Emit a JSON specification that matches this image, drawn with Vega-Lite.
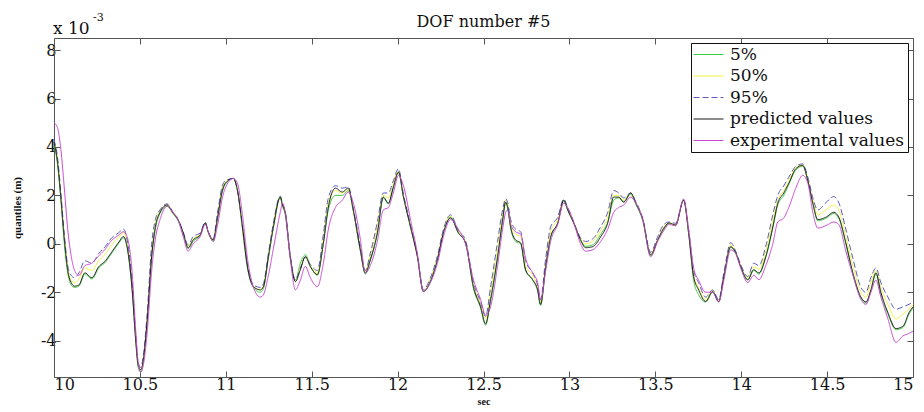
{
  "$schema": "https://vega.github.io/schema/vega-lite/v6.json",
  "width": 859,
  "height": 339,
  "autosize": {"type": "none"},
  "padding": {"left": 54, "top": 38, "right": 11, "bottom": 35},
  "background": "white",
  "title": {"text": "DOF number #5", "font": "DejaVu Serif", "fontSize": 16, "fontWeight": "normal", "color": "#111", "offset": -11, "dy": 20, "baseline": "alphabetic", "anchor": "middle"},
  "config": {
    "view": {"stroke": null},
    "axis": {"grid": false, "domainColor": "#555", "tickColor": "#555", "tickSize": -6, "labelFont": "DejaVu Serif", "labelFontSize": 16, "labelColor": "#111", "titleColor": "#111", "titleFont": "Liberation Serif", "titleFontSize": 11, "titleFontWeight": "bold"}
  },
  "data": {"values": [
    {"t":10.000,"q5":4.1,"q50":4.2,"q95":4.3,"pred":4.2,"exp":5.0},
    {"t":10.020,"q5":3.3,"q50":3.5,"q95":3.6,"pred":3.4,"exp":4.8},
    {"t":10.040,"q5":1.8,"q50":2.0,"q95":2.1,"pred":1.9,"exp":3.9},
    {"t":10.060,"q5":0.0,"q50":0.3,"q95":0.4,"pred":0.2,"exp":2.3},
    {"t":10.080,"q5":-1.2,"q50":-1.0,"q95":-0.9,"pred":-1.1,"exp":0.6},
    {"t":10.100,"q5":-1.7,"q50":-1.5,"q95":-1.3,"pred":-1.6,"exp":-0.5},
    {"t":10.120,"q5":-1.8,"q50":-1.6,"q95":-1.4,"pred":-1.75,"exp":-1.1},
    {"t":10.145,"q5":-1.75,"q50":-1.45,"q95":-1.2,"pred":-1.7,"exp":-1.3},
    {"t":10.180,"q5":-1.25,"q50":-1.0,"q95":-0.7,"pred":-1.2,"exp":-0.9},
    {"t":10.220,"q5":-1.45,"q50":-1.1,"q95":-0.8,"pred":-1.4,"exp":-0.8},
    {"t":10.260,"q5":-1.0,"q50":-0.7,"q95":-0.4,"pred":-0.95,"exp":-0.5},
    {"t":10.300,"q5":-0.75,"q50":-0.4,"q95":-0.1,"pred":-0.7,"exp":-0.2},
    {"t":10.330,"q5":-0.45,"q50":-0.1,"q95":0.2,"pred":-0.4,"exp":0.1},
    {"t":10.375,"q5":0.0,"q50":0.25,"q95":0.45,"pred":0.05,"exp":0.35},
    {"t":10.405,"q5":0.25,"q50":0.45,"q95":0.6,"pred":0.3,"exp":0.5},
    {"t":10.425,"q5":-0.15,"q50":0.1,"q95":0.2,"pred":-0.1,"exp":0.3},
    {"t":10.455,"q5":-1.95,"q50":-1.7,"q95":-1.6,"pred":-1.9,"exp":-1.2},
    {"t":10.475,"q5":-4.0,"q50":-3.8,"q95":-3.7,"pred":-3.9,"exp":-3.5},
    {"t":10.490,"q5":-5.1,"q50":-5.0,"q95":-4.9,"pred":-5.0,"exp":-4.9},
    {"t":10.505,"q5":-5.3,"q50":-5.2,"q95":-5.1,"pred":-5.2,"exp":-5.3},
    {"t":10.520,"q5":-4.9,"q50":-4.8,"q95":-4.6,"pred":-4.8,"exp":-5.0},
    {"t":10.542,"q5":-3.3,"q50":-3.1,"q95":-2.9,"pred":-3.2,"exp":-3.7},
    {"t":10.570,"q5":-0.5,"q50":-0.2,"q95":0.1,"pred":-0.4,"exp":-1.0},
    {"t":10.590,"q5":0.6,"q50":0.8,"q95":1.0,"pred":0.7,"exp":0.2},
    {"t":10.617,"q5":1.25,"q50":1.35,"q95":1.4,"pred":1.3,"exp":1.0},
    {"t":10.658,"q5":1.55,"q50":1.6,"q95":1.65,"pred":1.6,"exp":1.55},
    {"t":10.693,"q5":1.25,"q50":1.3,"q95":1.3,"pred":1.27,"exp":1.3},
    {"t":10.722,"q5":0.95,"q50":1.0,"q95":1.0,"pred":1.0,"exp":1.0},
    {"t":10.752,"q5":0.4,"q50":0.45,"q95":0.5,"pred":0.45,"exp":0.3},
    {"t":10.781,"q5":-0.2,"q50":-0.1,"q95":-0.05,"pred":-0.16,"exp":-0.3},
    {"t":10.810,"q5":0.1,"q50":0.2,"q95":0.3,"pred":0.16,"exp":0.0},
    {"t":10.851,"q5":0.35,"q50":0.4,"q95":0.45,"pred":0.37,"exp":0.3},
    {"t":10.880,"q5":0.85,"q50":0.85,"q95":0.9,"pred":0.86,"exp":0.8},
    {"t":10.898,"q5":0.45,"q50":0.5,"q95":0.5,"pred":0.49,"exp":0.5},
    {"t":10.927,"q5":0.1,"q50":0.2,"q95":0.2,"pred":0.16,"exp":0.1},
    {"t":10.950,"q5":0.95,"q50":1.1,"q95":1.2,"pred":1.0,"exp":0.7},
    {"t":10.980,"q5":2.15,"q50":2.3,"q95":2.4,"pred":2.2,"exp":1.9},
    {"t":10.997,"q5":2.45,"q50":2.55,"q95":2.6,"pred":2.5,"exp":2.3},
    {"t":11.044,"q5":2.7,"q50":2.7,"q95":2.7,"pred":2.7,"exp":2.7},
    {"t":11.068,"q5":2.2,"q50":2.2,"q95":2.2,"pred":2.2,"exp":2.5},
    {"t":11.097,"q5":0.6,"q50":0.7,"q95":0.75,"pred":0.7,"exp":1.2},
    {"t":11.126,"q5":-1.0,"q50":-0.9,"q95":-0.85,"pred":-0.94,"exp":-0.6},
    {"t":11.161,"q5":-1.8,"q50":-1.75,"q95":-1.7,"pred":-1.77,"exp":-1.8},
    {"t":11.201,"q5":-2.0,"q50":-1.9,"q95":-1.8,"pred":-1.9,"exp":-2.2},
    {"t":11.219,"q5":-1.85,"q50":-1.75,"q95":-1.65,"pred":-1.77,"exp":-2.1},
    {"t":11.248,"q5":-0.6,"q50":-0.45,"q95":-0.4,"pred":-0.53,"exp":-1.3},
    {"t":11.277,"q5":0.65,"q50":0.8,"q95":0.85,"pred":0.7,"exp":-0.2},
    {"t":11.317,"q5":1.9,"q50":1.95,"q95":1.97,"pred":1.93,"exp":1.3},
    {"t":11.330,"q5":1.55,"q50":1.6,"q95":1.65,"pred":1.6,"exp":1.68},
    {"t":11.346,"q5":1.2,"q50":1.3,"q95":1.35,"pred":1.27,"exp":1.3},
    {"t":11.375,"q5":-0.55,"q50":-0.5,"q95":-0.45,"pred":-0.53,"exp":-0.6},
    {"t":11.405,"q5":-1.5,"q50":-1.55,"q95":-1.5,"pred":-1.56,"exp":-1.9},
    {"t":11.434,"q5":-0.8,"q50":-1.0,"q95":-1.0,"pred":-1.07,"exp":-1.5},
    {"t":11.463,"q5":-0.45,"q50":-0.55,"q95":-0.55,"pred":-0.53,"exp":-0.93},
    {"t":11.492,"q5":-0.9,"q50":-0.9,"q95":-0.85,"pred":-0.94,"exp":-1.4},
    {"t":11.533,"q5":-1.3,"q50":-1.2,"q95":-1.1,"pred":-1.27,"exp":-1.77},
    {"t":11.568,"q5":0.0,"q50":0.2,"q95":0.4,"pred":0.04,"exp":-0.8},
    {"t":11.597,"q5":1.4,"q50":1.7,"q95":1.9,"pred":1.52,"exp":0.6},
    {"t":11.638,"q5":2.0,"q50":2.2,"q95":2.4,"pred":2.3,"exp":1.5},
    {"t":11.678,"q5":2.0,"q50":2.1,"q95":2.3,"pred":2.14,"exp":1.8},
    {"t":11.713,"q5":2.2,"q50":2.25,"q95":2.35,"pred":2.3,"exp":2.14},
    {"t":11.742,"q5":1.35,"q50":1.4,"q95":1.45,"pred":1.4,"exp":1.7},
    {"t":11.783,"q5":-0.3,"q50":-0.2,"q95":-0.1,"pred":-0.25,"exp":0.2},
    {"t":11.812,"q5":-1.25,"q50":-1.15,"q95":-1.1,"pred":-1.2,"exp":-1.2},
    {"t":11.841,"q5":-0.7,"q50":-0.5,"q95":-0.4,"pred":-0.66,"exp":-0.9},
    {"t":11.882,"q5":0.4,"q50":0.7,"q95":0.9,"pred":0.45,"exp":0.1},
    {"t":11.917,"q5":1.9,"q50":2.0,"q95":2.1,"pred":1.93,"exp":1.4},
    {"t":11.946,"q5":1.65,"q50":1.9,"q95":2.1,"pred":1.68,"exp":1.5},
    {"t":11.975,"q5":2.3,"q50":2.5,"q95":2.6,"pred":2.34,"exp":2.1},
    {"t":12.005,"q5":2.95,"q50":3.0,"q95":3.1,"pred":2.96,"exp":2.83},
    {"t":12.034,"q5":1.95,"q50":2.0,"q95":2.05,"pred":1.93,"exp":2.4},
    {"t":12.075,"q5":0.7,"q50":0.75,"q95":0.8,"pred":0.7,"exp":1.0},
    {"t":12.115,"q5":-0.5,"q50":-0.5,"q95":-0.45,"pred":-0.53,"exp":-0.4},
    {"t":12.150,"q5":-1.95,"q50":-1.95,"q95":-1.9,"pred":-1.97,"exp":-1.97},
    {"t":12.191,"q5":-1.5,"q50":-1.45,"q95":-1.4,"pred":-1.56,"exp":-1.6},
    {"t":12.232,"q5":-0.6,"q50":-0.55,"q95":-0.5,"pred":-0.66,"exp":-0.8},
    {"t":12.267,"q5":0.5,"q50":0.55,"q95":0.6,"pred":0.45,"exp":0.3},
    {"t":12.308,"q5":1.1,"q50":1.15,"q95":1.2,"pred":1.07,"exp":1.0},
    {"t":12.354,"q5":0.45,"q50":0.5,"q95":0.55,"pred":0.45,"exp":0.6},
    {"t":12.395,"q5":0.05,"q50":0.1,"q95":0.15,"pred":0.04,"exp":0.0},
    {"t":12.442,"q5":-1.85,"q50":-1.7,"q95":-1.6,"pred":-1.8,"exp":-1.5},
    {"t":12.483,"q5":-2.65,"q50":-2.5,"q95":-2.4,"pred":-2.6,"exp":-2.3},
    {"t":12.512,"q5":-3.35,"q50":-3.1,"q95":-3.0,"pred":-3.3,"exp":-2.95},
    {"t":12.541,"q5":-2.4,"q50":-2.0,"q95":-1.8,"pred":-2.3,"exp":-2.6},
    {"t":12.582,"q5":-0.6,"q50":-0.2,"q95":0.1,"pred":-0.53,"exp":-0.9},
    {"t":12.611,"q5":0.9,"q50":1.2,"q95":1.4,"pred":0.99,"exp":0.6},
    {"t":12.629,"q5":1.7,"q50":1.8,"q95":1.86,"pred":1.72,"exp":1.3},
    {"t":12.641,"q5":1.45,"q50":1.6,"q95":1.7,"pred":1.5,"exp":1.4},
    {"t":12.658,"q5":0.65,"q50":0.9,"q95":1.0,"pred":0.7,"exp":0.8},
    {"t":12.687,"q5":0.1,"q50":0.4,"q95":0.6,"pred":0.16,"exp":0.5},
    {"t":12.716,"q5":0.0,"q50":0.3,"q95":0.5,"pred":0.04,"exp":0.4},
    {"t":12.745,"q5":-1.1,"q50":-0.9,"q95":-0.7,"pred":-1.07,"exp":-0.6},
    {"t":12.786,"q5":-1.5,"q50":-1.3,"q95":-1.2,"pred":-1.48,"exp":-1.2},
    {"t":12.815,"q5":-1.95,"q50":-1.8,"q95":-1.7,"pred":-1.9,"exp":-1.6},
    {"t":12.832,"q5":-2.55,"q50":-2.4,"q95":-2.3,"pred":-2.5,"exp":-2.3},
    {"t":12.862,"q5":-1.0,"q50":-0.8,"q95":-0.6,"pred":-0.94,"exp":-1.1},
    {"t":12.891,"q5":0.25,"q50":0.5,"q95":0.7,"pred":0.29,"exp":0.1},
    {"t":12.932,"q5":0.85,"q50":1.0,"q95":1.1,"pred":0.86,"exp":0.8},
    {"t":12.967,"q5":1.75,"q50":1.8,"q95":1.85,"pred":1.8,"exp":1.68},
    {"t":12.990,"q5":1.4,"q50":1.45,"q95":1.5,"pred":1.4,"exp":1.5},
    {"t":13.025,"q5":0.85,"q50":0.9,"q95":0.9,"pred":0.86,"exp":0.9},
    {"t":13.065,"q5":0.15,"q50":0.2,"q95":0.25,"pred":0.16,"exp":0.0},
    {"t":13.094,"q5":-0.1,"q50":0.0,"q95":0.1,"pred":-0.16,"exp":-0.3},
    {"t":13.135,"q5":-0.05,"q50":0.1,"q95":0.2,"pred":-0.12,"exp":-0.25},
    {"t":13.182,"q5":0.4,"q50":0.55,"q95":0.7,"pred":0.29,"exp":0.1},
    {"t":13.223,"q5":0.9,"q50":1.1,"q95":1.3,"pred":0.86,"exp":0.6},
    {"t":13.258,"q5":1.8,"q50":2.0,"q95":2.2,"pred":1.93,"exp":1.3},
    {"t":13.287,"q5":1.9,"q50":2.0,"q95":2.1,"pred":1.93,"exp":1.5},
    {"t":13.316,"q5":1.75,"q50":1.8,"q95":1.9,"pred":1.72,"exp":1.6},
    {"t":13.357,"q5":2.05,"q50":2.1,"q95":2.1,"pred":2.1,"exp":1.93},
    {"t":13.386,"q5":1.65,"q50":1.7,"q95":1.75,"pred":1.68,"exp":1.7},
    {"t":13.427,"q5":0.95,"q50":1.0,"q95":1.05,"pred":1.0,"exp":1.0},
    {"t":13.473,"q5":-0.5,"q50":-0.4,"q95":-0.35,"pred":-0.45,"exp":-0.53},
    {"t":13.514,"q5":0.15,"q50":0.2,"q95":0.3,"pred":0.16,"exp":0.1},
    {"t":13.550,"q5":0.6,"q50":0.7,"q95":0.8,"pred":0.65,"exp":0.55},
    {"t":13.580,"q5":0.85,"q50":0.85,"q95":0.9,"pred":0.86,"exp":0.8},
    {"t":13.618,"q5":0.75,"q50":0.8,"q95":0.85,"pred":0.78,"exp":0.75},
    {"t":13.665,"q5":1.8,"q50":1.8,"q95":1.8,"pred":1.8,"exp":1.85},
    {"t":13.694,"q5":0.4,"q50":0.5,"q95":0.6,"pred":0.45,"exp":0.6},
    {"t":13.723,"q5":-1.5,"q50":-1.3,"q95":-1.1,"pred":-1.35,"exp":-1.0},
    {"t":13.752,"q5":-2.1,"q50":-1.8,"q95":-1.6,"pred":-1.9,"exp":-1.5},
    {"t":13.793,"q5":-2.4,"q50":-2.3,"q95":-2.2,"pred":-2.38,"exp":-2.0},
    {"t":13.834,"q5":-2.0,"q50":-1.95,"q95":-1.9,"pred":-1.97,"exp":-2.0},
    {"t":13.869,"q5":-2.4,"q50":-2.35,"q95":-2.3,"pred":-2.38,"exp":-2.4},
    {"t":13.899,"q5":-1.4,"q50":-1.3,"q95":-1.2,"pred":-1.35,"exp":-1.5},
    {"t":13.939,"q5":-0.15,"q50":-0.05,"q95":0.05,"pred":-0.12,"exp":-0.25},
    {"t":13.968,"q5":-0.4,"q50":-0.35,"q95":-0.3,"pred":-0.37,"exp":-0.4},
    {"t":13.997,"q5":-0.95,"q50":-0.9,"q95":-0.85,"pred":-0.94,"exp":-1.0},
    {"t":14.038,"q5":-1.5,"q50":-1.4,"q95":-1.35,"pred":-1.48,"exp":-1.6},
    {"t":14.073,"q5":-1.1,"q50":-0.95,"q95":-0.8,"pred":-1.07,"exp":-1.3},
    {"t":14.103,"q5":-1.25,"q50":-1.05,"q95":-0.9,"pred":-1.2,"exp":-1.48},
    {"t":14.143,"q5":-0.55,"q50":-0.3,"q95":-0.1,"pred":-0.53,"exp":-0.9},
    {"t":14.184,"q5":0.65,"q50":0.95,"q95":1.2,"pred":0.7,"exp":0.0},
    {"t":14.213,"q5":1.6,"q50":1.8,"q95":2.0,"pred":1.68,"exp":0.9},
    {"t":14.248,"q5":2.0,"q50":2.2,"q95":2.4,"pred":2.1,"exp":1.07},
    {"t":14.277,"q5":2.45,"q50":2.6,"q95":2.75,"pred":2.5,"exp":1.5},
    {"t":14.318,"q5":3.05,"q50":3.15,"q95":3.2,"pred":3.1,"exp":2.3},
    {"t":14.358,"q5":3.2,"q50":3.25,"q95":3.3,"pred":3.24,"exp":2.83},
    {"t":14.388,"q5":2.6,"q50":2.7,"q95":2.75,"pred":2.6,"exp":2.5},
    {"t":14.417,"q5":1.65,"q50":1.8,"q95":1.9,"pred":1.68,"exp":1.3},
    {"t":14.446,"q5":0.95,"q50":1.2,"q95":1.4,"pred":1.0,"exp":0.65},
    {"t":14.493,"q5":1.05,"q50":1.4,"q95":1.7,"pred":1.1,"exp":0.75},
    {"t":14.539,"q5":1.25,"q50":1.6,"q95":1.95,"pred":1.3,"exp":0.9},
    {"t":14.568,"q5":1.05,"q50":1.4,"q95":1.7,"pred":1.1,"exp":0.8},
    {"t":14.609,"q5":0.0,"q50":0.3,"q95":0.6,"pred":0.04,"exp":-0.3},
    {"t":14.650,"q5":-1.25,"q50":-0.9,"q95":-0.6,"pred":-1.2,"exp":-1.3},
    {"t":14.697,"q5":-2.25,"q50":-2.0,"q95":-1.8,"pred":-2.2,"exp":-2.3},
    {"t":14.726,"q5":-2.45,"q50":-2.2,"q95":-2.0,"pred":-2.4,"exp":-2.5},
    {"t":14.755,"q5":-1.95,"q50":-1.6,"q95":-1.4,"pred":-1.9,"exp":-2.0},
    {"t":14.784,"q5":-1.25,"q50":-1.1,"q95":-1.0,"pred":-1.2,"exp":-1.5},
    {"t":14.813,"q5":-2.1,"q50":-1.8,"q95":-1.6,"pred":-2.0,"exp":-2.2},
    {"t":14.854,"q5":-2.9,"q50":-2.5,"q95":-2.2,"pred":-2.84,"exp":-3.1},
    {"t":14.901,"q5":-3.55,"q50":-3.1,"q95":-2.7,"pred":-3.5,"exp":-4.07},
    {"t":14.942,"q5":-3.45,"q50":-2.9,"q95":-2.6,"pred":-3.4,"exp":-3.8},
    {"t":14.977,"q5":-2.9,"q50":-2.7,"q95":-2.5,"pred":-2.84,"exp":-3.7},
    {"t":15.000,"q5":-2.65,"q50":-2.5,"q95":-2.4,"pred":-2.6,"exp":-3.6}
  ]},
  "layer": [
    {
      "transform": [{"fold": ["q5", "q50", "q95", "pred", "exp"], "as": ["series", "value"]}],
      "mark": {"type": "line", "strokeWidth": 1, "interpolate": "monotone"},
      "encoding": {
        "x": {"field": "t", "type": "quantitative", "scale": {"domain": [10, 15], "nice": false, "zero": false},
              "axis": {"orient": "bottom", "values": [10, 10.5, 11, 11.5, 12, 12.5, 13, 13.5, 14, 14.5, 15], "labelExpr": "'' + datum.value", "labelPadding": 5, "title": "sec", "titlePadding": 4, "titleFontSize": 10}},
        "y": {"field": "value", "type": "quantitative", "scale": {"domain": [-5.5, 8.5], "nice": false, "zero": false},
              "axis": {"orient": "left", "values": [-4, -2, 0, 2, 4, 6, 8], "labelExpr": "'' + datum.value", "labelPadding": 4, "title": "quantiles (m)", "titlePadding": 18}},
        "color": {"field": "series", "type": "nominal",
                  "scale": {"domain": ["q5", "q50", "q95", "pred", "exp"], "range": ["#3ccc3c", "#f2f244", "#5a5ac0", "#1a1a1a", "#c846d2"]},
                  "legend": {"title": null, "orient": "top-right", "offset": 5, "fillColor": "white", "strokeColor": "#111", "padding": 3,
                             "labelFont": "DejaVu Serif", "labelFontSize": 17, "labelColor": "#111", "labelLimit": 400, "labelOffset": 13,
                             "symbolType": "M-3,0H3", "symbolSize": 100, "symbolOffset": 6, "symbolStrokeWidth": 1.2, "rowPadding": 3.5,
                             "labelExpr": "datum.label == 'q5' ? '5%' : datum.label == 'q50' ? '50%' : datum.label == 'q95' ? '95%' : datum.label == 'pred' ? 'predicted values' : 'experimental values'"}},
        "strokeDash": {"field": "series", "type": "nominal",
                       "scale": {"domain": ["q5", "q50", "q95", "pred", "exp"], "range": [[1, 0], [1, 0], [6, 3], [1, 0], [1, 0]]},
                       "legend": {"title": null, "orient": "top-right", "offset": 5, "fillColor": "white", "strokeColor": "#111", "padding": 3,
                             "labelFont": "DejaVu Serif", "labelFontSize": 17, "labelColor": "#111", "labelLimit": 400, "labelOffset": 13,
                             "symbolType": "M-3,0H3", "symbolSize": 100, "symbolOffset": 6, "symbolStrokeWidth": 1.2, "rowPadding": 3.5,
                             "labelExpr": "datum.label == 'q5' ? '5%' : datum.label == 'q50' ? '50%' : datum.label == 'q95' ? '95%' : datum.label == 'pred' ? 'predicted values' : 'experimental values'"}}
      }
    },
    {
      "data": {"values": [{}]},
      "mark": {"type": "text", "text": "x 10", "font": "DejaVu Serif", "fontSize": 17, "color": "#111", "align": "left", "baseline": "alphabetic", "dy": -4, "dx": -1},
      "encoding": {
        "x": {"datum": 10, "type": "quantitative", "axis": {"orient": "top", "values": [10, 10.5, 11, 11.5, 12, 12.5, 13, 13.5, 14, 14.5, 15], "labels": false, "title": null}},
        "y": {"datum": 8.5, "type": "quantitative", "axis": {"orient": "right", "values": [-4, -2, 0, 2, 4, 6, 8], "labels": false, "title": null}}
      }
    },
    {
      "data": {"values": [{}]},
      "mark": {"type": "text", "text": "-3", "font": "DejaVu Serif", "fontSize": 11, "color": "#111", "align": "left", "baseline": "alphabetic", "dy": -17, "dx": 39},
      "encoding": {
        "x": {"datum": 10, "type": "quantitative", "axis": null},
        "y": {"datum": 8.5, "type": "quantitative", "axis": null}
      }
    }
  ],
  "resolve": {"axis": {"x": "independent", "y": "independent"}}
}
